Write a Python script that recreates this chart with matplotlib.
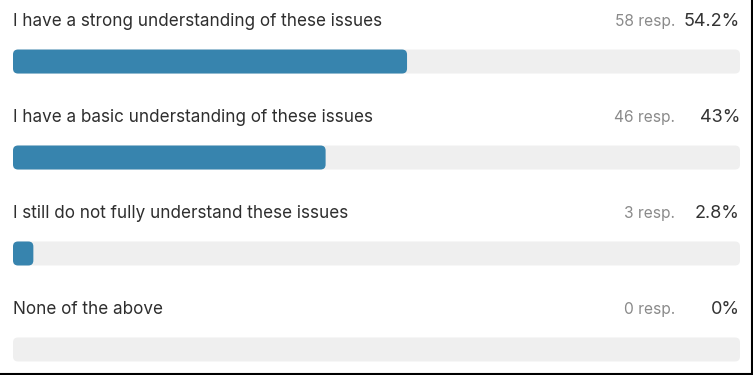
import matplotlib
matplotlib.use("Agg")
import matplotlib.pyplot as plt
from matplotlib.patches import FancyBboxPatch
from matplotlib.lines import Line2D

labels = [
    "I have a strong understanding of these issues",
    "I have a basic understanding of these issues",
    "I still do not fully understand these issues",
    "None of the above",
]
responses = [58, 46, 3, 0]
percents = [54.2, 43, 2.8, 0]
pct_labels = ["54.2%", "43%", "2.8%", "0%"]

W, H = 753, 375
fig = plt.figure(figsize=(W / 100, H / 100), dpi=100)
fig.patch.set_facecolor("white")
x0, x1 = 13, 740
ax = fig.add_axes([x0 / W, 0, (x1 - x0) / W, 1])
ax.set_xlim(0, 100)
ax.set_ylim(-3.266, 0.641)
ax.axis("off")

px_x = (x1 - x0) / 100.0   # px per x unit
px_y = 96.0                # px per y unit
aspect = px_x / px_y
bar_h = 24 / px_y
r = 5 / px_x

BLUE = "#3784ae"
TRACK = "#efefef"
FONT = "Inter"

for i, (lab, n, p, pl) in enumerate(zip(labels, responses, percents, pct_labels)):
    yc = -i
    track = FancyBboxPatch((0, yc - bar_h / 2), 100, bar_h,
                           boxstyle=f"round,pad=0,rounding_size={r}",
                           mutation_aspect=aspect, fc=TRACK, ec="none")
    ax.add_patch(track)
    if p > 0:
        fill = FancyBboxPatch((0, yc - bar_h / 2), p, bar_h,
                              boxstyle=f"round,pad=0,rounding_size={min(r, p / 2)}",
                              mutation_aspect=aspect, fc=BLUE, ec="none")
        ax.add_patch(fill)
    ty = yc + 40.0 / px_y
    ax.text(0, ty, lab, ha="left", va="center", fontsize=12.3,
            color="#2e2e2e", family=FONT)
    ax.text(91.06, ty, f"{n} resp.", ha="right", va="center", fontsize=11.2,
            color="#8a8a8a", family=FONT)
    ax.text(100, ty, pl, ha="right", va="center", fontsize=13,
            color="#333333", family=FONT)

fig.add_artist(Line2D([751.5 / W, 751.5 / W], [0, 1], color="black", lw=1.5))
fig.add_artist(Line2D([0, 1], [1.5 / H, 1.5 / H], color="black", lw=1.5))

fig.savefig("out.png", dpi=100, facecolor="white")
